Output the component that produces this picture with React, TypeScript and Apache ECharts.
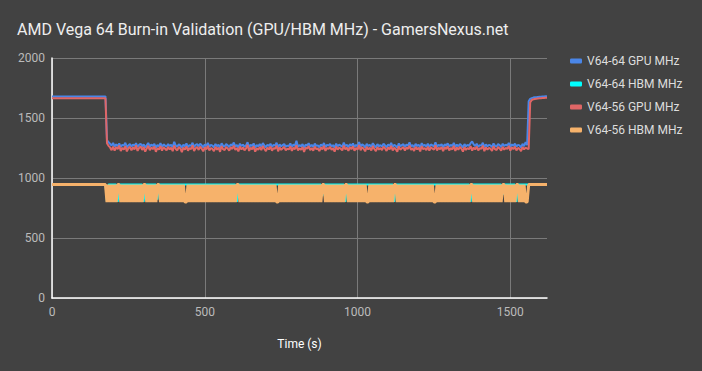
import React, { useEffect, useRef } from "react";
import * as echarts from "echarts";

// ---- Data ----
const TITLE = "AMD Vega 64 Burn-in Validation (GPU/HBM MHz) - GamersNexus.net";
const SERIES_NAMES = ["V64-64 GPU MHz", "V64-64 HBM MHz", "V64-56 GPU MHz", "V64-56 HBM MHz"];
const X_TICKS = [0, 500, 1000, 1500];
const X_MAX = 1620;
const Y_TICKS = [0, 500, 1000, 1500, 2000];

const IDLE_END_S = 175;
const LOAD_START_S = 180;
const RECOVER_START_S = 1560;
const STEP_S = 5;

// idle plateau levels (t = 0..175 s)
const gpu64Idle = 1680;
const gpu56Idle = 1665;
const hbm64Idle = 945;
const hbm56Idle = 945;

// load samples, t = 180..1555 s every 5 s
const gpu64Load = [
  1315,1298,1285,1270,1292,1262,1280,1266,1288,1258,1276,1270,1294,1256,1272,1282,1262,1278,1268,1290,
  1260,1276,1286,1264,1280,1254,1272,1292,1262,1278,1268,1284,1252,1274,1264,1290,1258,1280,1270,1262,
  1282,1266,1276,1256,1302,1270,1260,1280,1272,1250,1278,1264,1288,1258,1274,1268,1294,1256,1276,1282,
  1264,1286,1272,1254,1280,1266,1292,1260,1276,1270,1256,1284,1264,1278,1250,1290,1268,1262,1282,1272,
  1258,1280,1270,1296,1262,1276,1254,1286,1266,1278,1260,1272,1298,1256,1276,1268,1288,1252,1274,1264,
  1282,1262,1290,1272,1256,1278,1266,1286,1258,1276,1270,1294,1254,1280,1264,1274,1284,1260,1270,1266,
  1288,1258,1278,1268,1310,1260,1274,1264,1282,1250,1278,1270,1290,1262,1276,1258,1286,1268,1272,1256,
  1280,1266,1292,1256,1276,1270,1284,1262,1274,1252,1286,1264,1278,1270,1260,1294,1266,1276,1256,1282,
  1268,1288,1258,1276,1264,1300,1262,1280,1272,1254,1284,1266,1276,1260,1290,1270,1256,1282,1264,1274,
  1262,1286,1272,1256,1280,1266,1292,1260,1276,1268,1252,1288,1264,1274,1282,1258,1278,1270,1296,1264,
  1274,1256,1284,1266,1278,1254,1290,1268,1276,1262,1286,1258,1280,1272,1264,1298,1260,1276,1268,1282,
  1254,1280,1270,1288,1262,1276,1266,1292,1258,1278,1264,1284,1272,1252,1282,1264,1276,1268,1290,1305,
  1280,1266,1286,1260,1274,1270,1294,1256,1280,1264,1276,1272,1258,1288,1268,1262,1282,1274,1258,1286,
  1266,1278,1270,1292,1260,1280,1268,1286,1262,1276,1272,1254,1284,1266,1300,1274,
];
const gpu56Load = [
  1290,1268,1255,1232,1262,1228,1258,1240,1270,1225,1252,1236,1266,1222,1248,1260,1230,1256,1238,1272,
  1226,1250,1264,1234,1258,1220,1246,1268,1232,1254,1240,1262,1218,1250,1236,1266,1228,1256,1244,1230,
  1260,1238,1252,1224,1270,1242,1230,1258,1246,1216,1254,1236,1264,1228,1250,1240,1272,1226,1248,1258,
  1234,1262,1244,1222,1256,1238,1268,1230,1250,1242,1224,1260,1236,1254,1218,1266,1240,1232,1258,1246,
  1228,1256,1242,1270,1234,1250,1222,1262,1238,1254,1230,1246,1276,1226,1252,1240,1264,1220,1248,1236,
  1258,1232,1266,1244,1224,1254,1238,1262,1228,1250,1242,1270,1222,1256,1234,1248,1260,1230,1244,1238,
  1264,1226,1252,1240,1272,1230,1248,1236,1258,1218,1254,1244,1266,1232,1250,1228,1262,1240,1246,1224,
  1256,1238,1268,1226,1250,1242,1260,1234,1248,1220,1262,1236,1254,1244,1230,1270,1238,1252,1226,1258,
  1240,1264,1228,1250,1236,1274,1232,1256,1244,1222,1260,1238,1252,1230,1266,1242,1224,1258,1236,1250,
  1232,1262,1246,1226,1256,1238,1268,1230,1252,1240,1220,1264,1236,1248,1258,1228,1254,1242,1270,1234,
  1248,1226,1260,1238,1254,1222,1266,1240,1250,1232,1262,1228,1256,1244,1236,1272,1230,1252,1240,1258,
  1224,1256,1242,1264,1230,1250,1238,1268,1226,1254,1236,1260,1244,1220,1258,1234,1250,1240,1266,1228,
  1254,1238,1262,1230,1248,1242,1270,1224,1256,1236,1252,1244,1226,1264,1240,1232,1258,1246,1228,1260,
  1236,1252,1242,1268,1228,1256,1240,1262,1230,1250,1244,1224,1258,1238,1254,1246,
];
const hbm64Load = [
  800,945,945,945,945,945,945,800,945,945,945,945,945,945,945,945,945,945,945,945,
  945,945,945,945,800,945,945,945,945,945,945,945,945,820,945,945,945,945,945,945,
  945,945,945,945,945,945,945,945,945,945,945,945,945,945,945,945,945,945,945,945,
  945,945,945,945,945,945,945,945,945,945,945,945,945,945,945,945,945,945,945,945,
  945,945,945,945,945,800,945,945,945,945,945,945,945,945,945,945,945,945,945,945,
  945,945,945,945,945,945,945,945,945,945,945,945,945,945,945,945,945,945,945,945,
  945,945,945,945,945,945,945,945,945,945,945,945,945,945,945,945,945,945,945,945,
  945,850,945,945,945,945,945,945,945,945,945,945,945,945,945,945,800,945,945,945,
  945,945,945,945,945,945,945,945,945,945,945,945,945,945,945,945,945,945,945,945,
  945,945,945,945,945,945,945,945,800,945,945,945,945,945,945,945,945,945,945,945,
  945,945,945,945,945,945,945,945,945,945,945,945,945,945,945,945,945,945,945,945,
  945,945,945,945,945,945,945,945,945,945,945,945,945,945,945,945,945,945,800,945,
  945,945,945,945,945,945,945,945,945,945,945,945,945,945,945,945,945,945,945,860,
  945,945,945,945,945,945,945,945,800,945,945,945,945,945,945,945,
];
const hbm56Load = [
  800,945,800,945,800,945,800,945,945,800,945,800,945,800,945,800,945,800,945,800,
  945,800,945,800,945,945,800,945,800,945,800,945,800,945,945,800,945,800,945,800,
  945,800,945,800,945,800,945,800,945,800,945,800,800,945,800,945,800,945,800,945,
  800,945,800,945,800,945,800,945,800,945,800,945,800,945,800,945,800,945,800,945,
  800,945,800,945,800,945,945,800,945,800,945,800,945,800,945,800,945,800,945,800,
  945,800,945,800,945,800,945,800,945,800,945,800,800,945,800,945,800,945,800,945,
  800,945,800,945,800,945,800,945,800,945,800,945,800,945,800,945,800,945,800,945,
  800,945,945,800,945,800,945,800,945,800,945,800,945,800,945,800,945,945,800,945,
  800,945,800,945,800,945,800,945,800,945,800,800,945,800,945,800,945,800,945,800,
  945,800,945,800,945,800,945,800,945,945,800,945,800,945,800,945,800,945,800,945,
  800,945,800,945,800,945,800,945,800,945,800,945,800,945,800,800,945,800,945,800,
  945,800,945,800,945,800,945,800,945,800,945,800,945,800,945,800,945,800,945,945,
  800,945,800,945,800,945,800,945,800,945,800,945,800,945,800,945,800,945,800,945,
  945,800,945,800,945,800,945,800,945,945,800,945,800,945,800,800,
];

// recovery samples, t = 1560..1620 s every 5 s
const gpu64Recover = [1640, 1660, 1666, 1670, 1672, 1674, 1676, 1677, 1678, 1679, 1680, 1681, 1682];
const gpu56Recover = [1240, 1630, 1650, 1656, 1659, 1661, 1663, 1664, 1665, 1666, 1667, 1668, 1668];
const hbm64Recover = [945, 945];
const hbm56Recover = [945, 945];

const COLORS = ["#4a86e8", "#00ffff", "#e06666", "#f6b26b"];
const WIDTHS = [2, 2, 2, 3];

function buildSeries(idle: number, load: number[], recover: number[]) {
  const pts: number[][] = [
    [0, idle],
    [IDLE_END_S, idle],
  ];
  load.forEach((v, i) => pts.push([LOAD_START_S + i * STEP_S, v]));
  if (recover.length === 2) {
    pts.push([RECOVER_START_S, recover[0]]);
    pts.push([X_MAX, recover[1]]);
  } else {
    recover.forEach((v, i) => pts.push([RECOVER_START_S + i * STEP_S, v]));
  }
  return pts;
}

export default function App() {
  const ref = useRef<HTMLDivElement>(null);
  useEffect(() => {
    if (!ref.current) return;
    const chart = echarts.init(ref.current, null, { renderer: "svg" });
    const datasets = [
      buildSeries(gpu64Idle, gpu64Load, gpu64Recover),
      buildSeries(hbm64Idle, hbm64Load, hbm64Recover),
      buildSeries(gpu56Idle, gpu56Load, gpu56Recover),
      buildSeries(hbm56Idle, hbm56Load, hbm56Recover),
    ];
    const font = "Roboto";
    const plain = (v: number) => String(v);
    chart.setOption({
      animation: false,
      backgroundColor: "#424242",
      title: {
        text: TITLE,
        left: 12,
        top: 16,
        textStyle: { color: "#eeeeee", fontSize: 16, fontWeight: "normal", fontFamily: font },
      },
      legend: {
        orient: "vertical",
        left: 565,
        top: 50,
        itemWidth: 12,
        itemHeight: 5,
        itemGap: 11,
        icon: "roundRect",
        data: SERIES_NAMES,
        textStyle: { color: "#dddddd", fontSize: 12, fontFamily: font },
      },
      grid: { left: 52, right: 155, top: 58, bottom: 73, containLabel: false },
      xAxis: {
        type: "value",
        min: X_TICKS[0],
        max: X_MAX,
        interval: 500,
        name: "Time (s)",
        nameLocation: "middle",
        nameGap: 40,
        nameTextStyle: { color: "#ffffff", fontSize: 12, fontFamily: font },
        axisLine: { show: true, lineStyle: { color: "#ffffff", width: 1.5 } },
        axisTick: { show: false },
        axisLabel: {
          color: "#bbbbbb",
          fontSize: 12,
          fontFamily: font,
          margin: 8,
          showMaxLabel: false,
          formatter: plain,
        },
        splitLine: { show: true, showMaxLine: false, lineStyle: { color: "#7a7a7a", width: 1 } },
      },
      yAxis: {
        type: "value",
        min: Y_TICKS[0],
        max: Y_TICKS[Y_TICKS.length - 1],
        interval: 500,
        axisLine: { show: true, lineStyle: { color: "#ffffff", width: 1.5 } },
        axisTick: { show: false },
        axisLabel: { color: "#bbbbbb", fontSize: 12, fontFamily: font, margin: 7, formatter: plain },
        splitLine: { show: true, lineStyle: { color: "#7a7a7a", width: 1 } },
      },
      series: SERIES_NAMES.map((name, i) => ({
        name,
        type: "line",
        data: datasets[i],
        showSymbol: false,
        symbol: "none",
        color: COLORS[i],
        lineStyle: { width: WIDTHS[i], color: COLORS[i] },
        emphasis: { disabled: true },
      })),
    });
    return () => chart.dispose();
  }, []);
  return (
    <div
      ref={ref}
      style={{ position: "absolute", left: 0, top: 0, width: 702, height: 371 }}
    />
  );
}
